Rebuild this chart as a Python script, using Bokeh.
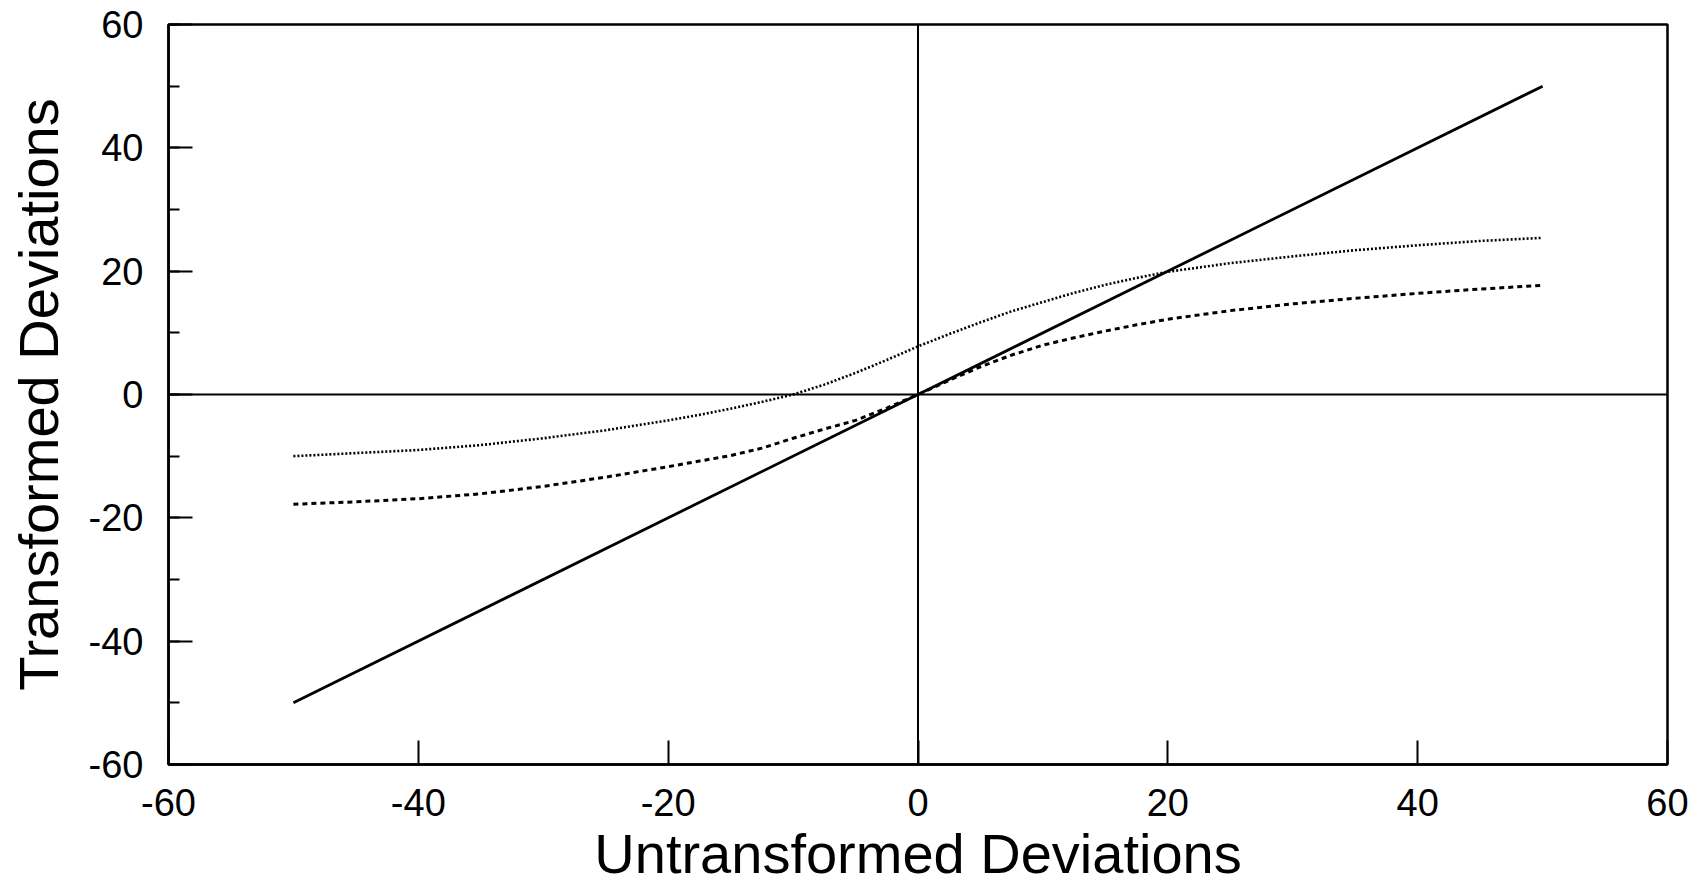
from bokeh.plotting import figure
from bokeh.embed import file_html
from bokeh.resources import INLINE
from bokeh.models import Span, SingleIntervalTicker, Range1d

# ---- data ----
solid_x = [-50, 50]
solid_y = [-50, 50]

curve_x = [-50, -45, -40, -35, -30, -25, -20, -17.5, -15, -12.5, -10, -7.5, -5, -2.5, 0,
           2.5, 5, 7.5, 10, 12.5, 15, 17.5, 20, 25, 30, 35, 40, 45, 50]
dotted_y = [-10.0, -9.5, -9.0, -8.2, -7.1, -5.8, -4.2, -3.3, -2.3, -1.2, 0.0, 1.6, 3.5, 5.6, 7.8,
            9.8, 11.7, 13.5, 15.0, 16.5, 17.8, 18.9, 19.9, 21.3, 22.4, 23.4, 24.2, 24.9, 25.4]
dashed_y = [-17.8, -17.4, -16.9, -16.1, -14.9, -13.4, -11.7, -10.8, -9.9, -8.7, -7.1, -5.6, -4.2, -2.2, 0.0,
            2.3, 4.5, 6.4, 8.0, 9.2, 10.3, 11.3, 12.2, 13.6, 14.7, 15.6, 16.4, 17.1, 17.7]

x_ticks = [-60, -40, -20, 0, 20, 40, 60]
y_ticks = [-60, -40, -20, 0, 20, 40, 60]
x_title = "Untransformed Deviations"
y_title = "Transformed Deviations"

FONT = "Liberation Sans"

p = figure(width=1700, height=892, output_backend="svg", toolbar_location=None,
           x_range=Range1d(-60, 60), y_range=Range1d(-60, 60),
           min_border_left=168, min_border_top=24, min_border_right=33,
           min_border_bottom=128, background_fill_color="white",
           border_fill_color="white")

p.outline_line_color = "black"
p.outline_line_width = 2.5
p.xgrid.visible = False
p.ygrid.visible = False

p.xaxis.ticker = SingleIntervalTicker(interval=20, num_minor_ticks=2)
p.yaxis.ticker = SingleIntervalTicker(interval=20, num_minor_ticks=2)
p.xaxis.major_label_overrides = {t: str(t) for t in x_ticks}
p.yaxis.major_label_overrides = {t: str(t) for t in y_ticks}

for ax in (p.xaxis, p.yaxis):
    ax.axis_line_color = "black"
    ax.axis_line_width = 2.5
    ax.major_tick_in = 24
    ax.major_tick_out = 0
    ax.major_tick_line_width = 2
    ax.major_tick_line_color = "black"
    ax.major_label_text_font = FONT
    ax.major_label_text_font_size = "38px"
    ax.major_label_text_color = "black"
    ax.axis_label_text_font = FONT
    ax.axis_label_text_font_size = "56px"
    ax.axis_label_text_font_style = "normal"
    ax.axis_label_text_color = "black"

p.xaxis.minor_tick_line_color = None
p.yaxis.minor_tick_in = 11
p.yaxis.minor_tick_out = 0
p.yaxis.minor_tick_line_width = 2
p.yaxis.minor_tick_line_color = "black"

p.xaxis.axis_label = x_title
p.yaxis.axis_label = y_title
p.xaxis.major_label_standoff = 20
p.xaxis.axis_label_standoff = 3
p.yaxis.major_label_standoff = 25
p.yaxis.axis_label_standoff = 16

p.add_layout(Span(location=0, dimension="width", line_color="black", line_width=2.2))
p.add_layout(Span(location=0, dimension="height", line_color="black", line_width=2))

p.line(solid_x, solid_y, line_color="black", line_width=2.8)
p.line(curve_x, dotted_y, line_color="black", line_width=2.6, line_dash="2 2")
p.line(curve_x, dashed_y, line_color="black", line_width=3, line_dash="5 4")

open("out.html", "w").write(file_html(p, INLINE))
